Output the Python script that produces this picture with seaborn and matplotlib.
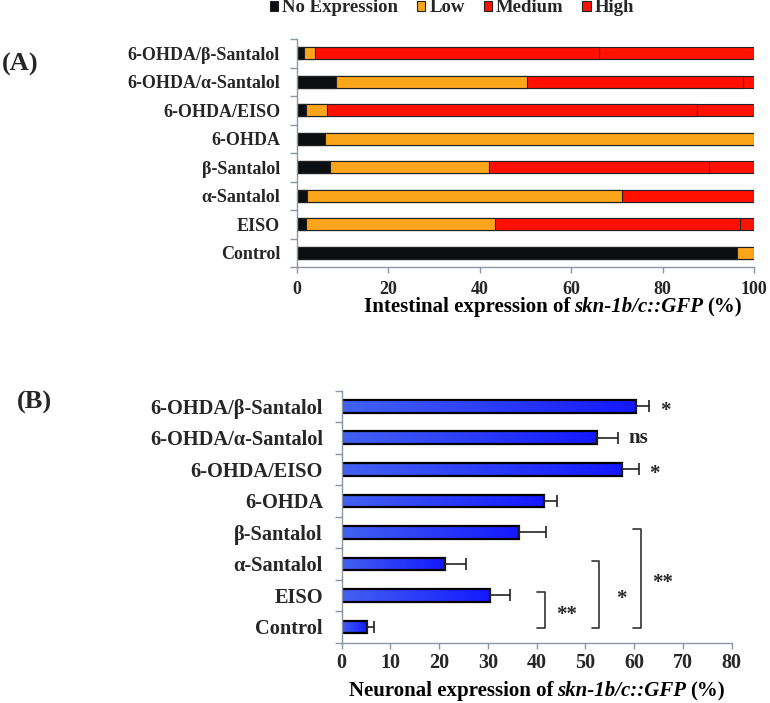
import numpy as np
import pandas as pd
import matplotlib
matplotlib.use('Agg')
import matplotlib.pyplot as plt
import seaborn as sns
from matplotlib.patches import Patch
from matplotlib.colors import LinearSegmentedColormap
from matplotlib.offsetbox import TextArea, HPacker, AnchoredOffsetbox

groups = ['6-OHDA/β-Santalol', '6-OHDA/α-Santalol', '6-OHDA/EISO', '6-OHDA',
          'β-Santalol', 'α-Santalol', 'EISO', 'Control']

# (A) intestinal expression levels, % of worms
no_expr = [1.5, 8.5, 2.0, 6.3, 7.2, 2.2, 2.0, 96.2]
low = [2.5, 41.9, 4.6, 93.7, 34.8, 69.0, 41.4, 3.8]
medium = [62.2, 47.3, 80.9, 0.0, 48.1, 28.8, 53.5, 0.0]
high = [33.8, 2.3, 12.5, 0.0, 9.9, 0.0, 3.1, 0.0]

# (B) neuronal expression, mean + error
neuronal = [60.4, 52.4, 57.5, 41.4, 36.3, 21.1, 30.5, 5.1]
neuronal_err = [2.7, 4.2, 3.4, 2.7, 5.5, 4.4, 4.0, 1.6]
marks = ['*', 'ns', '*', '', '', '', '', '']
# bracket comparisons vs Control: (group, label)
brackets = [('EISO', '**'), ('α-Santalol', '*'), ('β-Santalol', '**')]

sns.set_theme(style='white')
plt.rcParams['font.family'] = ['Liberation Serif', 'DejaVu Serif']
plt.rcParams['font.weight'] = 'bold'
plt.rcParams['font.size'] = 13

spine_col = '#8a96a3'
lvl_colors = {'No Expression': '#0c0f12', 'Low': '#fba51a',
              'Medium': '#ff1000', 'High': '#ff1200'}

fig = plt.figure(figsize=(7.7, 7.03), dpi=100)
ax1 = fig.add_axes([0.3853, 0.6202, 0.5939, 0.3243])
ax2 = fig.add_axes([0.4438, 0.0858, 0.5065, 0.3587])

# ---- panel A: stacked bars (draw cumulative totals, widest first)
df = pd.DataFrame({'group': groups, 'No Expression': no_expr, 'Low': low,
                   'Medium': medium, 'High': high})
levels = ['No Expression', 'Low', 'Medium', 'High']
cum = df[levels].cumsum(axis=1)
for lvl in reversed(levels):
    sns.barplot(x=cum[lvl], y=df['group'], orient='h', ax=ax1,
                color=lvl_colors[lvl], saturation=1, width=0.43,
                edgecolor='#222222', linewidth=0.8)

ax1.set_xlim(0, 100)
ax1.set_ylim(7.5, -0.5)
ax1.set_xticks(range(0, 101, 20))
ax1.set_xlabel('')
ax1.set_ylabel('')

# ---- panel B: horizontal bars with one-sided error bars
dfb = pd.DataFrame({'group': groups, 'value': neuronal})
sns.barplot(data=dfb, x='value', y='group', orient='h', ax=ax2,
            color='#2a3cf8', saturation=1, width=0.40,
            edgecolor='black', linewidth=1.6)
ypos = np.arange(len(groups))
ax2.errorbar(neuronal, ypos, xerr=[np.zeros(len(groups)), neuronal_err],
             fmt='none', ecolor='#222222', elinewidth=1.2, capsize=4,
             capthick=1.2, zorder=1)

# gradient fill on the blue bars
cmap = LinearSegmentedColormap.from_list('bl', ['#4262f0', '#1418ff'])
grad = np.linspace(0, 1, 256).reshape(1, -1)
for p in list(ax2.patches):
    x0, y0 = p.get_x(), p.get_y()
    w, h = p.get_width(), p.get_height()
    im = ax2.imshow(grad, extent=[x0, x0 + w, y0 + h, y0], aspect='auto',
                    cmap=cmap, zorder=p.get_zorder() - 0.01)
    im.set_clip_path(p)
    p.set_facecolor('none')
ax2.set_xlim(0, 80)
ax2.set_ylim(7.5, -0.5)
ax2.set_xticks(range(0, 81, 10))
ax2.set_xlabel('')
ax2.set_ylabel('')

for m, v, e, y in zip(marks, neuronal, neuronal_err, ypos):
    if m:
        off = 0.15 if m == '*' else 0.0
        ax2.text(v + e + 2.2, y + off, m, ha='left', va='center',
                 fontsize=15, fontweight='bold')

bx = {'EISO': 40.1, 'α-Santalol': 51.3, 'β-Santalol': 59.8}
ctrl = groups.index('Control')
for g, lab in brackets:
    gi = groups.index(g)
    x0 = bx[g]
    x1 = x0 + 1.5
    ax2.plot([x0, x1, x1, x0], [gi - 0.1, gi - 0.1, ctrl + 0.02, ctrl + 0.02],
             color='#333333', lw=1.2, clip_on=False)
    ax2.text(x1 + 4.6, (gi + ctrl) / 2 + 0.12, lab, ha='center', va='center',
             fontsize=15, fontweight='bold')

# axes styling shared by both panels
for ax, ypad, xpad, ysz, xsz in [(ax1, 12, 6, 13, 13), (ax2, 13.5, 3.7, 14.7, 14.5)]:
    for s in ['top', 'right']:
        ax.spines[s].set_visible(False)
    for s in ['left', 'bottom']:
        ax.spines[s].set_color(spine_col)
        ax.spines[s].set_linewidth(1.0)
    ax.set_yticks(np.arange(-0.5, 8, 1), minor=True)
    ax.tick_params(axis='y', which='major', length=0, pad=ypad,
                   labelsize=ysz)
    ax.tick_params(axis='y', which='minor', left=True, length=5,
                   color=spine_col, width=1)
    ax.tick_params(axis='x', which='major', bottom=True, length=4,
                   color=spine_col, width=1, pad=xpad, labelsize=xsz)
    for t in ax.get_yticklabels() + ax.get_xticklabels():
        t.set_fontweight('bold')


def mixed_label(x, y, parts):
    boxes = [TextArea(t, textprops=dict(fontsize=15, fontweight='bold',
                                        fontstyle=st, color='black'))
             for t, st in parts]
    pack = HPacker(children=boxes, align='baseline', pad=0, sep=3)
    ab = AnchoredOffsetbox(loc='center', child=pack, frameon=False, pad=0,
                           borderpad=0, bbox_to_anchor=(x, y),
                           bbox_transform=fig.transFigure)
    fig.add_artist(ab)


mixed_label(553 / 770, 1 - 307 / 703,
            [('Intestinal expression of', 'normal'),
             ('skn-1b/c::GFP', 'italic'), ('(%)', 'normal')])
mixed_label(537 / 770, 1 - 691 / 703,
            [('Neuronal expression of', 'normal'),
             ('skn-1b/c::GFP', 'italic'), ('(%)', 'normal')])

fig.text(20 / 770, 1 - 64 / 703, '(A)', ha='center', va='center',
         fontsize=19, fontweight='bold')
fig.text(34 / 770, 1 - 402 / 703, '(B)', ha='center', va='center',
         fontsize=19, fontweight='bold')

handles = [Patch(facecolor=lvl_colors[l], edgecolor='#222222', lw=0.8)
           for l in levels]
fig.legend(handles, levels, loc='center', bbox_to_anchor=(452 / 770, 1 - 8 / 703),
           ncol=4, frameon=False, handlelength=0.45, handleheight=0.45,
           handletextpad=0.22, columnspacing=1.0, borderpad=0,
           prop=dict(weight='bold', size=13.5))

fig.savefig('out.png', dpi=100)
